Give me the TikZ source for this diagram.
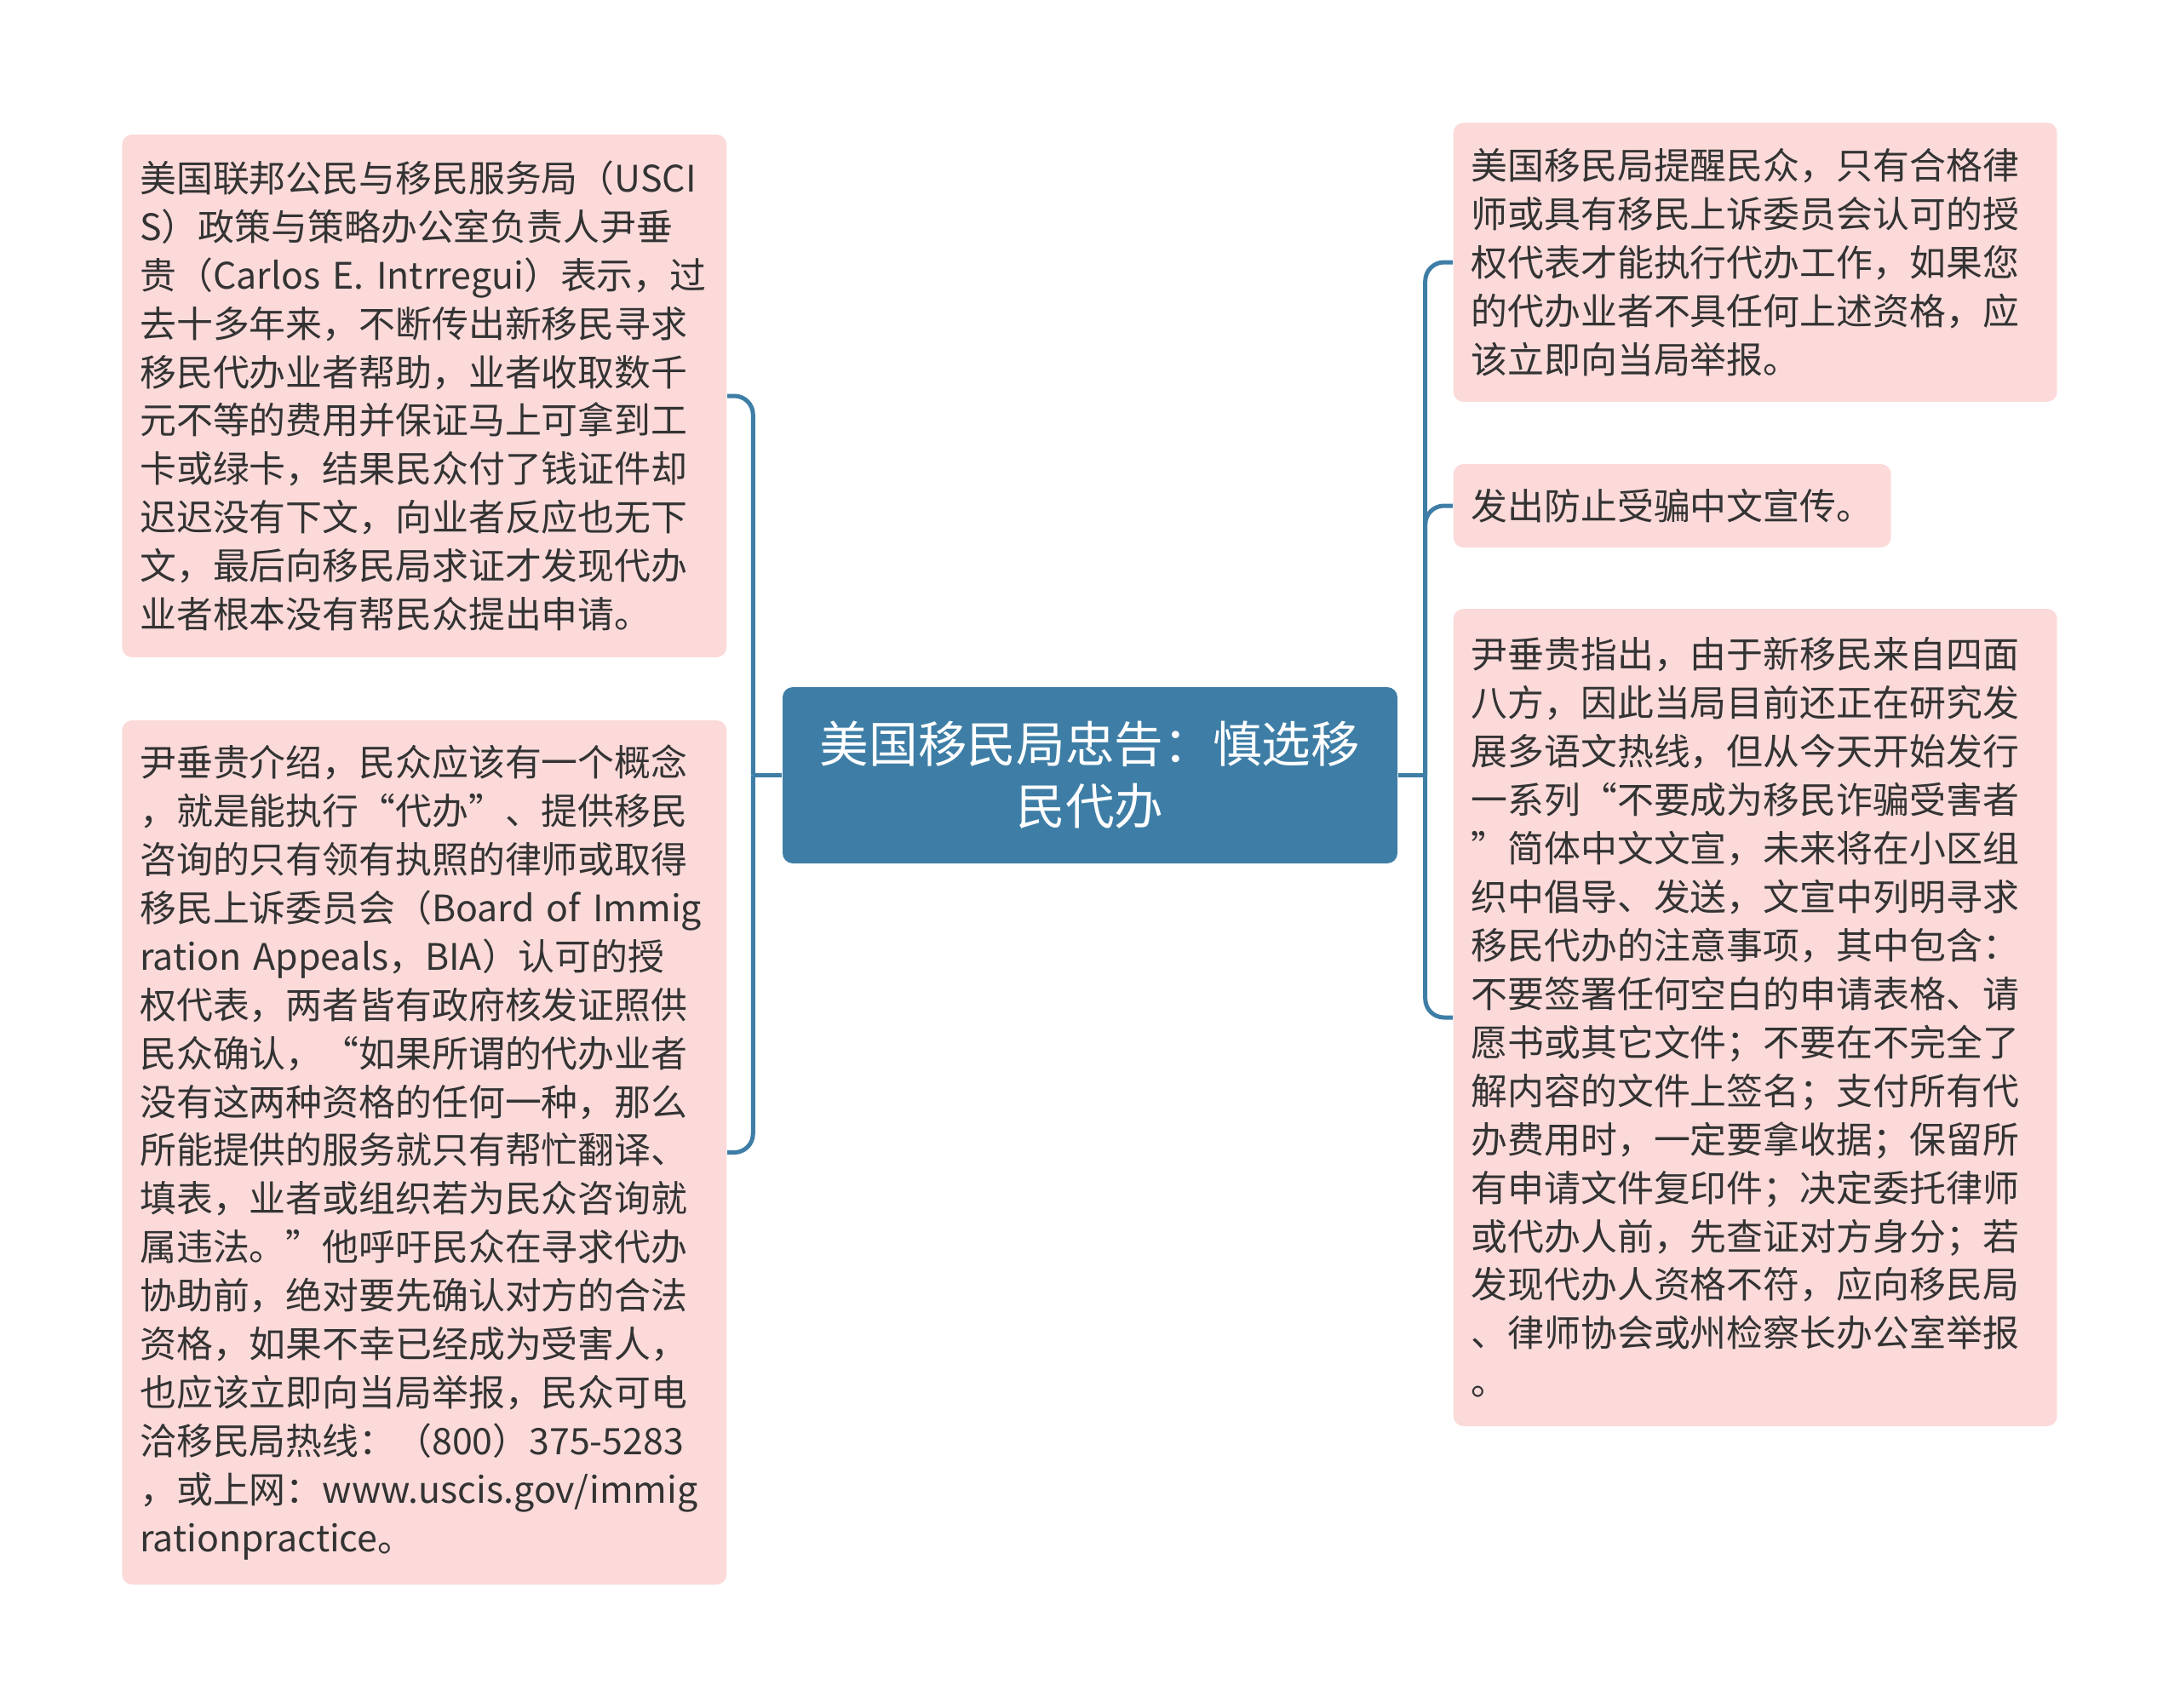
\documentclass[tikz,border=0pt]{standalone}
\usepackage{fontspec}
\setmainfont{Noto Sans CJK SC}
\usetikzlibrary{calc}
\definecolor{rootblue}{HTML}{3E7EA6}
\definecolor{leafpink}{HTML}{FCDADA}
\definecolor{leaftext}{HTML}{333333}

\begin{document}
\begin{tikzpicture}[
  root/.style={rectangle, rounded corners=0.12cm, fill=rootblue, text=white,
    minimum width=7.22cm, minimum height=2.07cm, align=center,
    font=\fontsize{16.4}{20.8}\selectfont},
  leaf/.style={rectangle, rounded corners=0.12cm, fill=leafpink, text=leaftext,
    inner xsep=0.21cm, inner ysep=0cm, align=left,
    font=\fontsize{12.2}{16.2}\selectfont},
  link/.style={draw=rootblue, line width=0.05cm, rounded corners=0.22cm}]
  \useasboundingbox (0,0) rectangle (25.6,-20.06);

  \node[root] (root) at (12.80,-9.105) {美国移民局忠告：慎选移\\民代办};

  \node[leaf, anchor=east, text width=6.68cm, minimum height=6.14cm] (lt) at (8.54,-4.65)
    {美国联邦公民与移民服务局（USCI\\
     S）政策与策略办公室负责人尹垂\\
     贵（Carlos E. Intrregui）表示，过\\
     去十多年来，不断传出新移民寻求\\
     移民代办业者帮助，业者收取数千\\
     元不等的费用并保证马上可拿到工\\
     卡或绿卡，结果民众付了钱证件却\\
     迟迟没有下文，向业者反应也无下\\
     文，最后向移民局求证才发现代办\\
     业者根本没有帮民众提出申请。};
  \node[leaf, anchor=east, text width=6.68cm, minimum height=10.15cm] (lb) at (8.54,-13.535)
    {尹垂贵介绍，民众应该有一个概念\\
     ，就是能执行“代办”、提供移民\\
     咨询的只有领有执照的律师或取得\\
     移民上诉委员会（Board of Immig\\
     ration Appeals，BIA）认可的授\\
     权代表，两者皆有政府核发证照供\\
     民众确认，“如果所谓的代办业者\\
     没有这两种资格的任何一种，那么\\
     所能提供的服务就只有帮忙翻译、\\
     填表，业者或组织若为民众咨询就\\
     属违法。”他呼吁民众在寻求代办\\
     协助前，绝对要先确认对方的合法\\
     资格，如果不幸已经成为受害人，\\
     也应该立即向当局举报，民众可电\\
     洽移民局热线：（800）375-5283\\
     ，或上网：www.uscis.gov/immig\\
     rationpractice。};

  \node[leaf, anchor=west, text width=6.67cm, minimum height=3.28cm] (r1) at (17.06,-3.08)
    {美国移民局提醒民众，只有合格律\\
     师或具有移民上诉委员会认可的授\\
     权代表才能执行代办工作，如果您\\
     的代办业者不具任何上述资格，应\\
     该立即向当局举报。};
  \node[leaf, anchor=west, text width=4.72cm, minimum height=0.98cm] (r2) at (17.06,-5.94)
    {发出防止受骗中文宣传。};
  \node[leaf, anchor=west, text width=6.67cm, minimum height=9.60cm] (r3) at (17.06,-11.95)
    {尹垂贵指出，由于新移民来自四面\\
     八方，因此当局目前还正在研究发\\
     展多语文热线，但从今天开始发行\\
     一系列“不要成为移民诈骗受害者\\
     ”简体中文文宣，未来将在小区组\\
     织中倡导、发送，文宣中列明寻求\\
     移民代办的注意事项，其中包含：\\
     不要签署任何空白的申请表格、请\\
     愿书或其它文件；不要在不完全了\\
     解内容的文件上签名；支付所有代\\
     办费用时，一定要拿收据；保留所\\
     有申请文件复印件；决定委托律师\\
     或代办人前，先查证对方身分；若\\
     发现代办人资格不符，应向移民局\\
     、律师协会或州检察长办公室举报\\
     。};

  \coordinate (lj) at ($(root.west)+(-0.34,0)$);
  \coordinate (rj) at ($(root.east)+(0.32,0)$);
  \draw[link] (root.west) -- (lj);
  \draw[link] (lj) |- (lt.east);
  \draw[link] (lj) |- (lb.east);
  \draw[link] (root.east) -- (rj);
  \draw[link] (rj) |- (r1.west);
  \draw[link] (rj) |- (r2.west);
  \draw[link] (rj) |- (r3.west);
\end{tikzpicture}
\end{document}
